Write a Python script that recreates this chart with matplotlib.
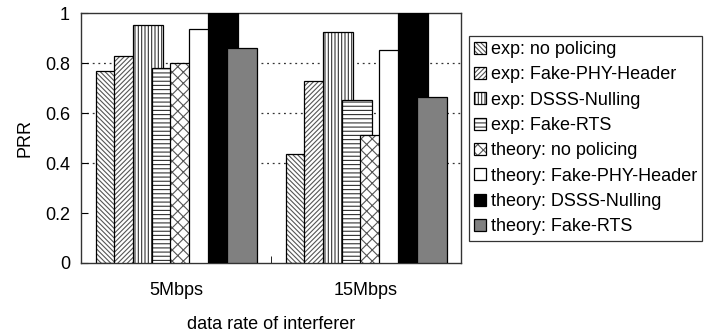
import matplotlib
matplotlib.use("Agg")
import matplotlib.pyplot as plt
import numpy as np

plt.rcParams['font.family'] = ['Liberation Sans', 'DejaVu Sans']
plt.rcParams['hatch.linewidth'] = 0.8

categories = ["5Mbps", "15Mbps"]
series_names = [
    "exp: no policing",
    "exp: Fake-PHY-Header",
    "exp: DSSS-Nulling",
    "exp: Fake-RTS",
    "theory: no policing",
    "theory: Fake-PHY-Header",
    "theory: DSSS-Nulling",
    "theory: Fake-RTS",
]
exp_no_policing = [0.768, 0.436]
exp_fake_phy = [0.831, 0.731]
exp_dsss = [0.955, 0.926]
exp_fake_rts = [0.783, 0.652]
th_no_policing = [0.800, 0.512]
th_fake_phy = [0.938, 0.852]
th_dsss = [1.0, 1.0]
th_fake_rts = [0.860, 0.664]
values = [exp_no_policing, exp_fake_phy, exp_dsss, exp_fake_rts,
          th_no_policing, th_fake_phy, th_dsss, th_fake_rts]

facecolors = ["white", "white", "white", "white", "white", "white", "black", "#808080"]
hatches = ["\\" * 7, "/" * 7, "|" * 5, "-" * 4, "x" * 3, None, None, None]
hatchcolors = ["#555555", "#555555", "#333333", "#333333", "#555555", "black", "black", "black"]

fig = plt.figure(figsize=(7.26, 3.34), dpi=100)
ax = fig.add_axes([0.1116, 0.2126, 0.5234, 0.747])

x = np.arange(len(categories)) + 0.5
pitch = 0.0985
width = 0.158
n = len(values)
handles = []
for i, (vals, fc, h, hc) in enumerate(zip(values, facecolors, hatches, hatchcolors)):
    left = x - 0.5 * ((n - 1) * pitch + width) + i * pitch
    b = ax.bar(left, vals, width=width, align='edge', facecolor=fc,
               edgecolor='black', linewidth=0.9, hatch=h, zorder=2 + i,
               label=series_names[i])
    if h:
        for p in b:
            p._hatch_color = matplotlib.colors.to_rgba(hc)
    handles.append(b)

ax.set_xlim(0, 2)
ax.set_ylim(0, 1)
ax.set_yticks([0, 0.2, 0.4, 0.6, 0.8, 1.0])
ax.set_yticklabels(["0", "0.2", "0.4", "0.6", "0.8", "1"], fontsize=13)
ax.set_xticks(x)
ax.set_xticklabels(categories, fontsize=13)
ax.tick_params(axis='x', length=0, pad=14)
ax.tick_params(axis='y', direction='in', length=5, pad=8)
ax.set_xticks([1.0], minor=True)
ax.tick_params(axis='x', which='minor', direction='in', length=5)
for yv in [0.4, 0.6, 0.8]:
    ax.axhline(yv, color='#333333', linestyle=(0, (1.5, 3)), linewidth=0.9, zorder=1)

for s in ax.spines.values():
    s.set_linewidth(1.0)
    s.set_color('#333333')

ax.set_ylabel("PRR", fontsize=13, labelpad=8)
ax.set_xlabel("data rate of interferer", fontsize=13, labelpad=12)

leg = fig.legend(handles=handles, loc='upper left', bbox_to_anchor=(0.646, 0.893),
                 fontsize=13, frameon=True, fancybox=False, handlelength=0.65,
                 handleheight=0.65, handletextpad=0.25, labelspacing=0.46,
                 borderpad=0.3, borderaxespad=0)
leg.get_frame().set_edgecolor('black')
leg.get_frame().set_linewidth(0.9)

fig.savefig("out.png", dpi=100)
